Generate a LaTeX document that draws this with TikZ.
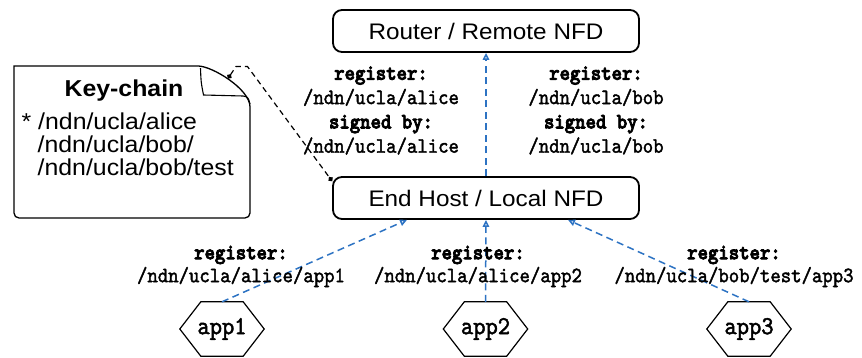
\documentclass[tikz,border=0pt]{standalone}
\usepackage{fontspec}
\setmainfont{Liberation Sans}
\newfontfamily\boxfont{Liberation Sans}[FakeStretch=1.08]
\newfontfamily\pathfont{lmmono10-regular.otf}[FakeBold=1.8,FakeStretch=0.9]
\newfontfamily\pathbold{lmmonolt10-bold.otf}[FakeBold=3.5,FakeStretch=0.9]
\newcommand{\regb}[1]{{\pathbold #1}}
\usetikzlibrary{arrows.meta,calc}
\definecolor{arrblue}{RGB}{45,115,195}
\begin{document}
\begin{tikzpicture}[x=1pt,y=1pt,
  nfd/.style={draw,line width=1.8pt,rounded corners=9pt,minimum width=306pt,minimum height=42pt,inner sep=0pt,font=\boxfont\fontsize{22.5}{26}\selectfont},
  lbl/.style={font=\pathfont\fontsize{22}{24.3}\selectfont,align=center,inner sep=0pt},
  applbl/.style={font=\pathfont\fontsize{22}{23}\selectfont,align=center,inner sep=0pt},
  appnode/.style={minimum width=84pt,minimum height=54pt,inner sep=0pt,font=\pathfont\fontsize{26}{28}\selectfont},
  hexline/.style={draw,line width=1.2pt,line join=miter},
  regarrow/.style={draw=arrblue,line width=1.5pt,dash pattern=on 7pt off 4.5pt,-{Triangle[open,length=7pt,width=6.5pt]}},
  linkline/.style={draw,line width=1.2pt,dash pattern=on 5.5pt off 4pt,{Circle[length=5pt]}-{Circle[length=5pt]}},
  notetext/.style={font=\boxfont\fontsize{23}{26}\selectfont,inner sep=0pt,anchor=west}
]
\useasboundingbox (0,0) rectangle (862,357);

% NFD boxes
\node[nfd] (router) at (486,326) {Router / Remote NFD};
\node[nfd] (host) at (486,159) {End Host / Local NFD};

% key-chain note
\draw[line width=1.3pt] (14,291) -- (198,291)
  .. controls (212,291) and (250,268) .. (250,250)
  [rounded corners=5pt] -- (250,139) -- (14,139) [sharp corners] -- cycle;
\draw[line width=1.1pt] (200.5,289) .. controls (201,275) .. (203.5,262)
  -- (243,261) .. controls (248,260) .. (250,253);
\coordinate (notedot) at (228,278.5);
\node[font=\boxfont\bfseries\fontsize{23}{26}\selectfont,inner sep=0pt] (keytitle) at (124,266) {Key-chain};
\node[notetext] (k1) at (21.5,236) {* /ndn/ucla/alice};
\node[notetext] (k2) at (37.5,213) {/ndn/ucla/bob/};
\node[notetext] (k3) at (37.5,190) {/ndn/ucla/bob/test};

% link from key-chain to end host
\coordinate (bendA) at (236,290.5);
\coordinate (bendB) at (247.5,290.5);
\draw[linkline] (notedot) -- (bendA) -- (bendB) -- ([yshift=-5pt]host.north west);

% host to router
\draw[regarrow] (host.north) -- (router.south);
\node[lbl] (lblA) at (381,246.5) {\regb{register:}\\/ndn/ucla/alice\\\regb{signed by:}\\/ndn/ucla/alice};
\node[lbl] (lblB) at (596,246.5) {\regb{register:}\\/ndn/ucla/bob\\\regb{signed by:}\\/ndn/ucla/bob};

% apps
\node[appnode] (app1) at (222,28) {app1};
\node[appnode] (app2) at (485.5,28) {app2};
\node[appnode] (app3) at (749,28) {app3};
\foreach \n in {app1,app2,app3}{
  \draw[hexline] (\n.west) -- ($(\n.north west)+(21,0)$) -- ($(\n.north east)+(-21,0)$)
    -- (\n.east) -- ($(\n.south east)+(-21,0)$) -- ($(\n.south west)+(21,0)$) -- cycle;
}

\draw[regarrow] (app1.north) -- ([xshift=-79pt]host.south);
\draw[regarrow] (app2.north) -- (host.south);
\draw[regarrow] (app3.north) -- ([xshift=82pt]host.south);

\node[applbl] (l1) at (241,90.5) {\regb{register:}\\/ndn/ucla/alice/app1};
\node[applbl] (l2) at (478,90.5) {\regb{register:}\\/ndn/ucla/alice/app2};
\node[applbl] (l3) at (734,90.5) {\regb{register:}\\/ndn/ucla/bob/test/app3};
\end{tikzpicture}
\end{document}
